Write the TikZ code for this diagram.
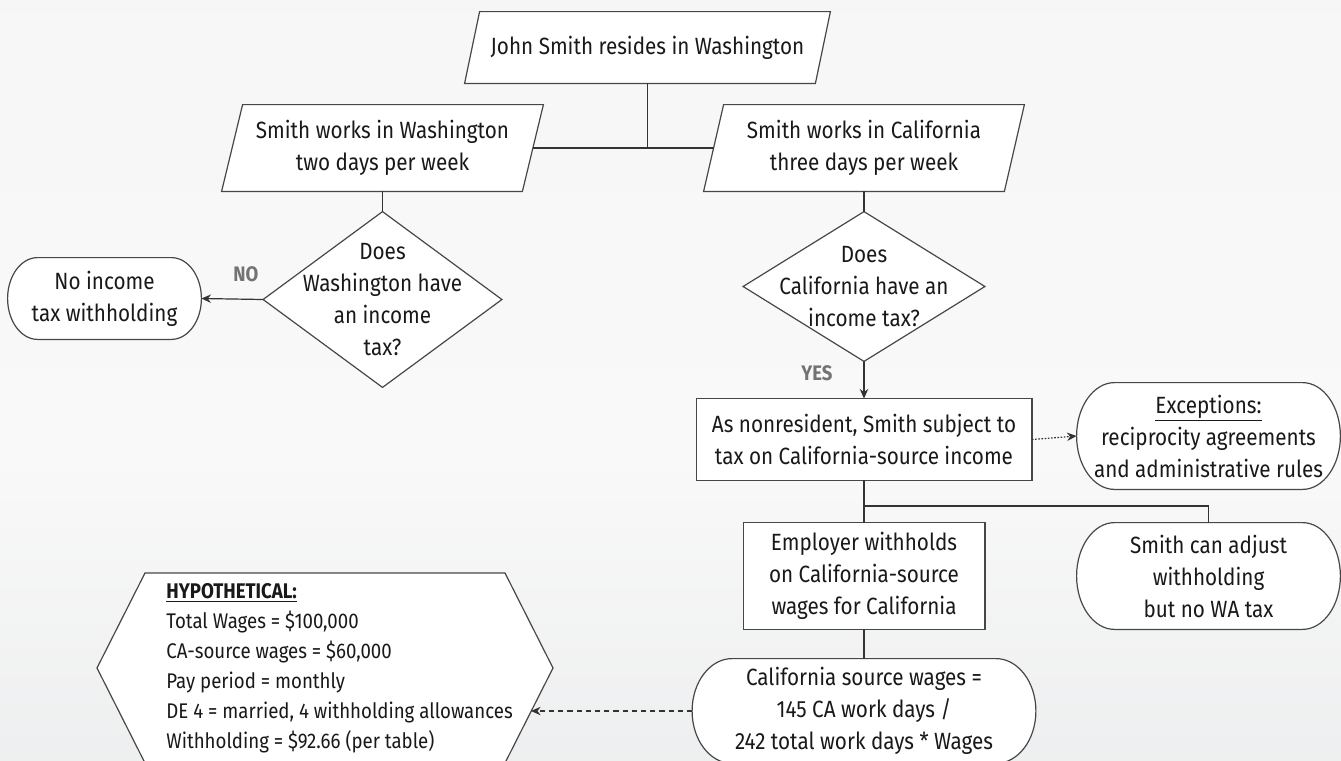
\documentclass[tikz,border=0pt]{standalone}
\usepackage{fontspec}
\setmainfont{Fira Sans}[FakeStretch=0.88]
\usetikzlibrary{calc,arrows.meta,backgrounds}
\definecolor{bgA}{RGB}{243,244,244}
\definecolor{bgB}{RGB}{246,246,246}
\definecolor{bgC}{RGB}{249,249,249}
\definecolor{bgD}{RGB}{236,237,238}
\definecolor{bgE}{RGB}{222,224,226}
\pgfdeclareverticalshading{bgshade}{100bp}{color(0bp)=(bgE); color(22bp)=(bgD); color(45bp)=(bgC); color(80bp)=(bgB); color(100bp)=(bgA)}
\newcommand\mainsz{\fontsize{11.75}{16}\selectfont}
\newcommand\hypsz{\fontsize{10.6}{15}\selectfont}
\newcommand\labsz{\fontsize{10.5}{12}\selectfont}
\newcommand\termshape[2]{%
  \draw[shp] let \p1=(#1.north west), \p2=(#1.south east), \n1={#2*0.5pt}, \n2={(\y1-\y2)/2} in
    (\x1+\n1,\y1) -- (\x2-\n1,\y1)
    arc[start angle=90,end angle=-90,x radius=\n1,y radius=\n2]
    -- (\x1+\n1,\y2)
    arc[start angle=270,end angle=90,x radius=\n1,y radius=\n2] -- cycle;}
\begin{document}
\begin{tikzpicture}[x=0.5pt,y=0.5pt,
  shp/.style={draw=black!72, line width=0.6pt, fill=white},
  conn/.style={draw=black!80, line width=0.6pt},
  box/.style={inner sep=0pt, align=center, font=\mainsz, text=black!90},
  lbl/.style={font=\labsz\bfseries, text=black!55, inner sep=0pt},
  arr/.style={-{Stealth[length=4.8pt,width=4.2pt]}},
  dotline/.style={dash pattern=on 0.8pt off 0.8pt},
  dashline/.style={dash pattern=on 2.6pt off 2pt}]
\useasboundingbox (0,0) rectangle (1341,-761);

% nodes
\node[box, minimum width=175pt, minimum height=35.5pt] (top) at (647.5,-47.5) {John Smith resides in Washington};
\node[box, minimum width=150pt, minimum height=43pt] (wa) at (382.5,-148) {Smith works in Washington\\two days per week};
\node[box, minimum width=150pt, minimum height=43pt] (ca) at (864,-148) {Smith works in California\\three days per week};
\node[box, minimum width=119pt, minimum height=87.5pt] (dwa) at (382.5,-299.5) {Does\\Washington have\\an income\\tax?};
\node[box, minimum width=120.5pt, minimum height=74.5pt] (dca) at (864,-286.5) {Does\\California have an\\income tax?};
\node[box, minimum width=96.5pt, minimum height=40.5pt] (nowh) at (104.5,-298.5) {No income\\tax withholding};
\node[box, minimum width=167.5pt, minimum height=40.5pt] (nonres) at (864,-439.5) {As nonresident, Smith subject to\\tax on California-source income};
\node[box, minimum width=131.5pt, minimum height=53pt] (exc) at (1208.5,-436) {\underline{Exceptions:}\\reciprocity agreements\\and administrative rules};
\node[box, minimum width=120.5pt, minimum height=53pt] (emp) at (864,-576) {Employer withholds\\on California-source\\wages for California};
\node[box, minimum width=131.5pt, minimum height=53pt] (adj) at (1208.5,-576) {Smith can adjust\\withholding\\but no WA tax};
\node[box, minimum width=171.5pt, minimum height=52pt] (cas) at (864,-711) {California source wages =\\145 CA work days /\\242 total work days * Wages};
\node[inner sep=0pt, align=left, anchor=west, font=\hypsz, text=black!90] (hyp) at (166,-668) {\underline{\textbf{HYPOTHETICAL:}}\\Total Wages = \$100,000\\CA-source wages = \$60,000\\Pay period = monthly\\DE 4 = married, 4 withholding allowances\\Withholding = \$92.66 (per table)};
\node[lbl] (no) at (246,-274) {NO};
\node[lbl] (yes) at (817,-373) {YES};
\coordinate (split) at (864,-506);
\coordinate (hypin) at (531,-711);

% shapes and background
\begin{scope}[on background layer]
\shade[shading=bgshade] (0,0) rectangle (1341,-761);
\draw[shp] ($(top.north west)+(7.5,0)$) -- ($(top.north east)+(7.5,0)$) -- ($(top.south east)+(-7.5,0)$) -- ($(top.south west)+(-7.5,0)$) -- cycle;
\draw[shp] ($(wa.north west)+(10.5,0)$) -- ($(wa.north east)+(10.5,0)$) -- ($(wa.south east)+(-10.5,0)$) -- ($(wa.south west)+(-10.5,0)$) -- cycle;
\draw[shp] ($(ca.north west)+(10,0)$) -- ($(ca.north east)+(10,0)$) -- ($(ca.south east)+(-10,0)$) -- ($(ca.south west)+(-10,0)$) -- cycle;
\draw[shp] (dwa.north) -- (dwa.east) -- (dwa.south) -- (dwa.west) -- cycle;
\draw[shp] (dca.north) -- (dca.east) -- (dca.south) -- (dca.west) -- cycle;
\draw[shp] (nonres.north west) rectangle (nonres.south east);
\draw[shp] (emp.north west) rectangle (emp.south east);
\termshape{nowh}{30}
\termshape{exc}{38}
\termshape{adj}{38}
\termshape{cas}{40}
\draw[shp] (145,-573) -- (505,-573) -- (553,-668) -- (505,-763) -- (145,-763) -- (97,-668) -- cycle;
\end{scope}

% connectors
\draw[conn] (top.south) -- (top.south |- wa.east);
\draw[conn] (wa.east) -- (ca.west);
\draw[conn] (wa.south) -- (dwa.north);
\draw[conn] (ca.south) -- (dca.north);
\draw[conn,arr] (dwa.west) -- (nowh.east);
\draw[conn,arr] (dca.south) -- (nonres.north);
\draw[conn,arr,dotline] (nonres.east) -- (exc.west);
\draw[conn] (nonres.south) -- (emp.north);
\draw[conn] (split) -| (adj.north);
\draw[conn] (emp.south) -- (cas.north);
\draw[conn,arr,dashline] (cas.west) -- (hypin);
\end{tikzpicture}
\end{document}
